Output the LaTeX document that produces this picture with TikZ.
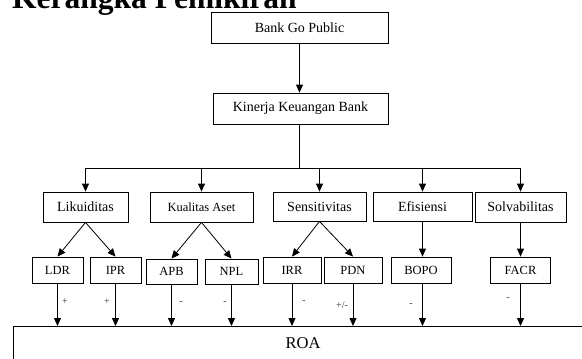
\documentclass[tikz,border=0pt]{standalone}
\usepackage{fontspec}
\setmainfont{Liberation Serif}
\usetikzlibrary{arrows.meta}
\begin{document}
\begin{tikzpicture}[x=1pt,y=-1pt,
  box/.style={draw, line width=0.8pt, inner sep=0pt, minimum height=31pt, font=\fontsize{14}{16}\selectfont},
  sbox/.style={draw, line width=0.8pt, inner sep=0pt, minimum height=26pt, font=\fontsize{12.5}{14}\selectfont},
  arr/.style={line width=0.8pt, -{Triangle[length=8pt,width=7pt]}},
  ln/.style={line width=0.8pt},
  sign/.style={inner sep=0pt, font=\fontsize{10}{12}\selectfont, text=black!80}]
\useasboundingbox (0,0) rectangle (582,359);
% title (cut off at the top, as in the reference)
\node[anchor=base west, inner sep=0pt, font=\fontsize{31.5}{34}\bfseries] (title) at (12,8) {Kerangka Pemikiran};
% level 1 and 2
\node[box, minimum width=177pt] (bgp) at (299.5,27.5) {Bank Go Public};
\node[box, minimum width=175pt] (kin) at (300.5,108.5) {Kinerja Keuangan Bank};
% level 3
\node[box, minimum width=85pt, minimum height=30pt] (lik) at (85.5,207) {Likuiditas};
\node[box, minimum width=103pt, minimum height=30pt, font=\fontsize{12.5}{14}\selectfont] (kua) at (201.5,207) {Kualitas Aset};
\node[box, minimum width=93pt, minimum height=29pt] (sen) at (319.5,206.5) {Sensitivitas};
\node[box, minimum width=99pt, minimum height=29pt] (efi) at (422.5,206.5) {Efisiensi};
\node[box, minimum width=91pt, minimum height=30pt] (sol) at (520.5,207) {Solvabilitas};
% level 4
\node[sbox, minimum width=51pt] (ldr) at (57.5,270) {LDR};
\node[sbox, minimum width=51pt] (ipr) at (115.5,270) {IPR};
\node[sbox, minimum width=51pt, minimum height=25pt] (apb) at (171.5,271.5) {APB};
\node[sbox, minimum width=53pt, minimum height=25pt] (npl) at (231.5,271.5) {NPL};
\node[sbox, minimum width=58pt] (irr) at (292,270) {IRR};
\node[sbox, minimum width=58pt] (pdn) at (353,270) {PDN};
\node[sbox, minimum width=60pt] (bopo) at (421,270) {BOPO};
\node[sbox, minimum width=60pt] (facr) at (520.5,270) {FACR};
% ROA box (extends past the right and bottom edges)
\node[draw, line width=0.8pt, inner sep=0pt, minimum width=620pt, minimum height=70pt, anchor=north west] (roabox) at (13,326) {};
\node[inner sep=0pt, font=\fontsize{16.5}{18}\selectfont] (roa) at (303,343) {ROA};
% connectors
\draw[arr] (bgp.south) -- (bgp.south |- kin.north);
\coordinate (bus) at (299.5,168);
\draw[ln] (bgp.south |- kin.south) -- (bgp.south |- bus);
\draw[ln] (lik.north |- bus) -- (sol.north |- bus);
\foreach \n in {lik,kua,sen,efi,sol}{
  \draw[arr] (\n.north |- bus) -- (\n.north);
}
\draw[arr] (lik.south) -- (ldr.north);
\draw[arr] (lik.south) -- (ipr.north);
\draw[arr] (kua.south) -- (apb.north);
\draw[arr] (kua.south) -- (npl.north);
\draw[arr] (sen.south) -- (irr.north);
\draw[arr] (sen.south) -- (pdn.north);
\draw[arr] (efi.south) -- (efi.south |- bopo.north);
\draw[arr] (sol.south) -- (sol.south |- facr.north);
\foreach \n in {ldr,ipr,apb,npl,irr,pdn}{
  \draw[arr] (\n.south) -- (\n.south |- roabox.north);
}
\draw[arr] (efi.south |- bopo.south) -- (efi.south |- roabox.north);
\draw[arr] (sol.south |- facr.south) -- (sol.south |- roabox.north);
% signs
\node[sign] (s1) at (65,302) {+};
\node[sign] (s2) at (107,302) {+};
\node[sign] (s3) at (181,303) {-};
\node[sign] (s4) at (225,303) {-};
\node[sign] (s5) at (304,302) {-};
\node[sign] (s6) at (342,305) {+/-};
\node[sign] (s7) at (411,305) {-};
\node[sign] (s8) at (508,299) {-};
\end{tikzpicture}
\end{document}
